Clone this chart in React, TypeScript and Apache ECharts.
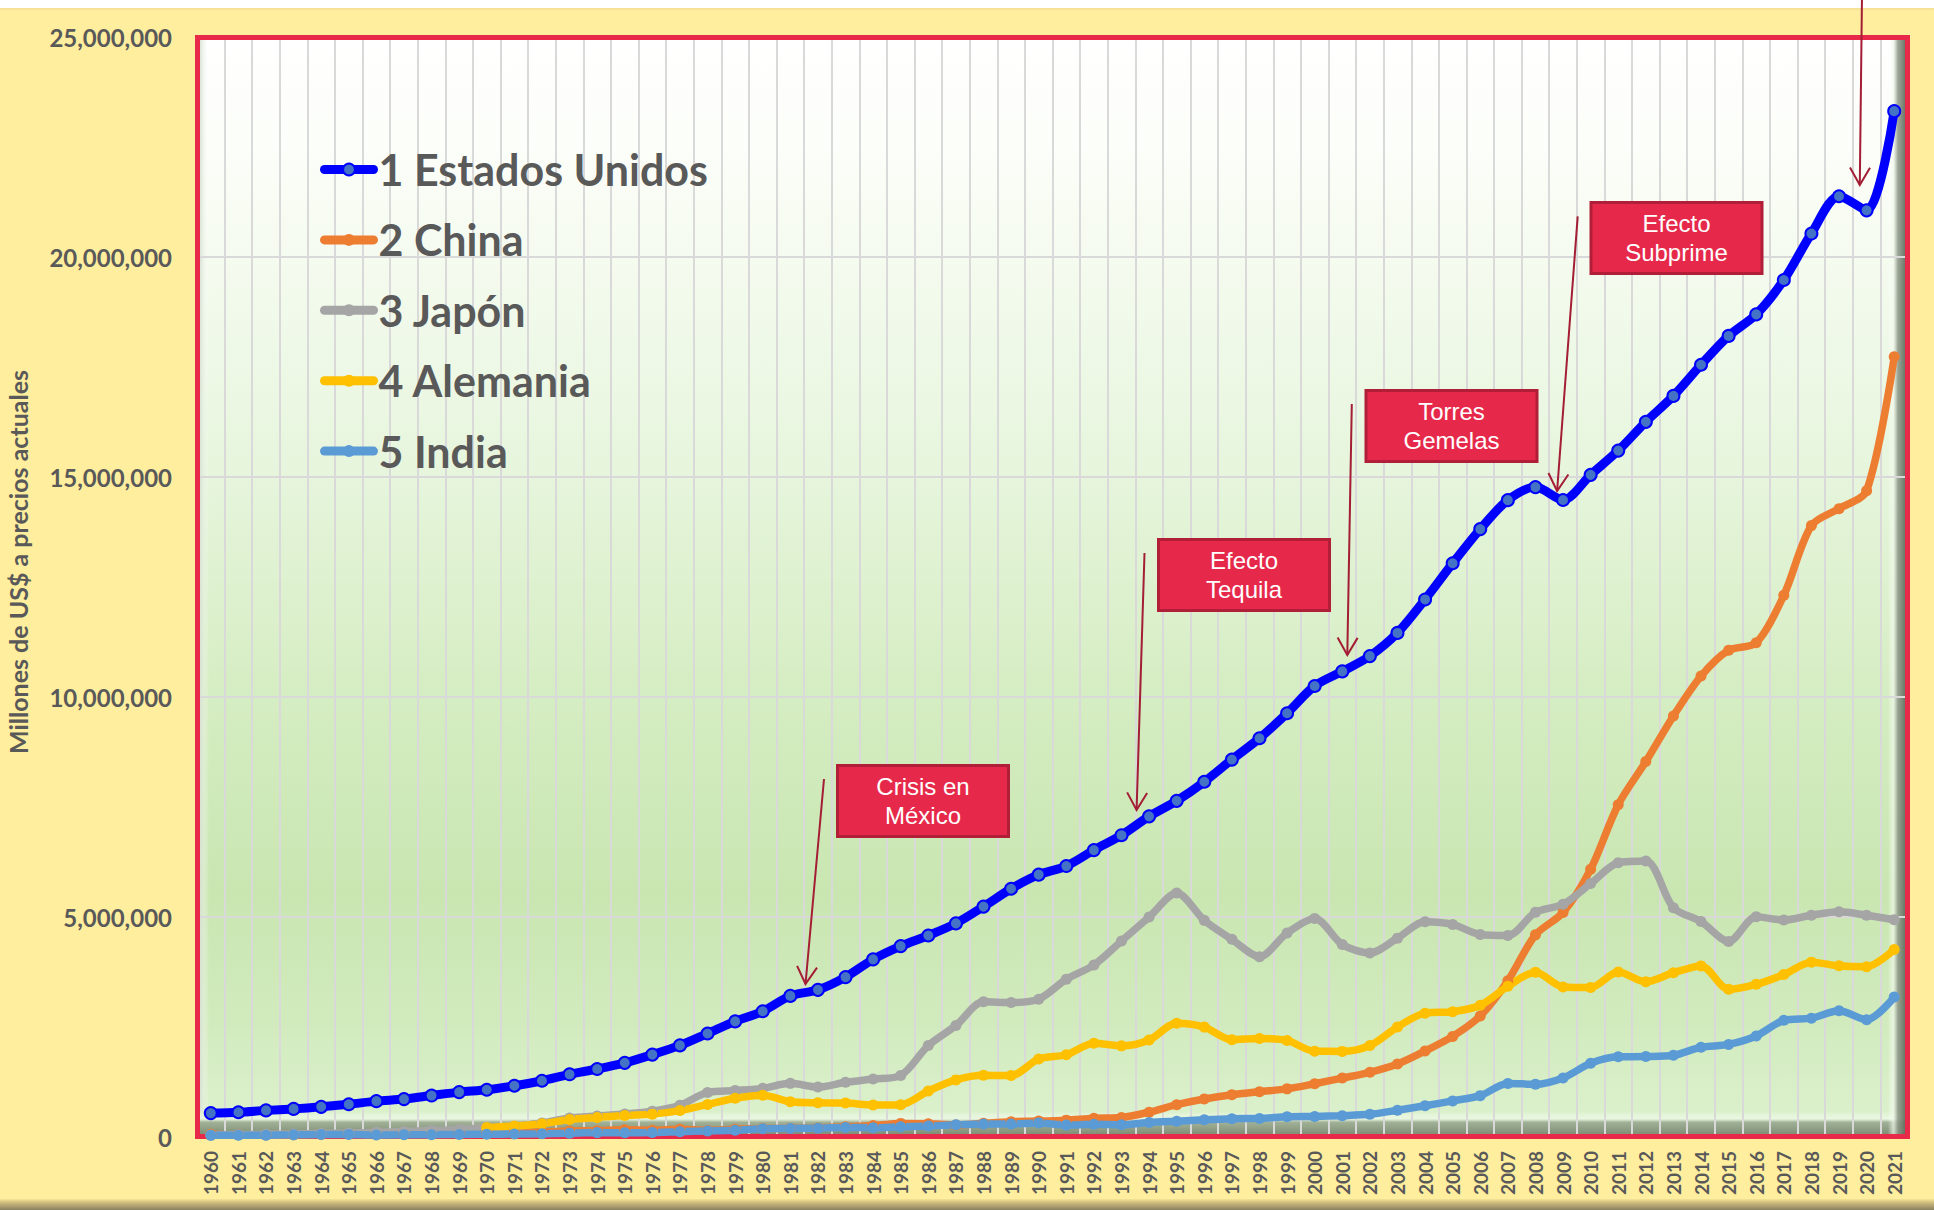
import React, { useEffect, useRef } from "react";
import * as echarts from "echarts";

// ---------- DATA (millones de US$ a precios actuales) ----------
const YEARS = [
  "1960", "1961", "1962", "1963", "1964", "1965", "1966", "1967", "1968", "1969",
  "1970", "1971", "1972", "1973", "1974", "1975", "1976", "1977", "1978", "1979",
  "1980", "1981", "1982", "1983", "1984", "1985", "1986", "1987", "1988", "1989",
  "1990", "1991", "1992", "1993", "1994", "1995", "1996", "1997", "1998", "1999",
  "2000", "2001", "2002", "2003", "2004", "2005", "2006", "2007", "2008", "2009",
  "2010", "2011", "2012", "2013", "2014", "2015", "2016", "2017", "2018", "2019",
  "2020", "2021",
];

const SERIES_NAMES = ["1 Estados Unidos", "2 China", "3 Japón", "4 Alemania", "5 India"];

const ESTADOS_UNIDOS = [
  543000, 563000, 605000, 639000, 686000, 744000, 815000, 862000, 942000, 1020000,
  1073000, 1165000, 1279000, 1425000, 1545000, 1685000, 1873000, 2082000, 2352000, 2627000,
  2857000, 3207000, 3344000, 3634000, 4038000, 4339000, 4580000, 4855000, 5236000, 5642000,
  5963000, 6158000, 6520000, 6859000, 7287000, 7640000, 8073000, 8578000, 9063000, 9631000,
  10251000, 10582000, 10929000, 11456000, 12217000, 13039000, 13816000, 14474000, 14770000, 14478000,
  15049000, 15600000, 16254000, 16843000, 17551000, 18206000, 18695000, 19477000, 20533000, 21381000,
  21060000, 23315000,
];

const CHINA = [
  59700, 50100, 47200, 50700, 59700, 70400, 76700, 72900, 70800, 79700,
  92600, 99800, 113700, 138500, 144200, 163400, 153900, 174900, 149500, 178300,
  191100, 195900, 205100, 230700, 259900, 309500, 300800, 272900, 312400, 347800,
  360900, 383400, 426900, 444700, 564300, 734500, 863700, 961600, 1029000, 1094000,
  1211000, 1339000, 1471000, 1660000, 1955000, 2286000, 2752000, 3550000, 4594000, 5102000,
  6087000, 7552000, 8532000, 9570000, 10476000, 11062000, 11233000, 12310000, 13895000, 14280000,
  14688000, 17734000,
];

const JAPON = [
  44300, 53500, 60700, 69500, 81700, 91000, 105600, 123800, 146600, 172200,
  212600, 240200, 318000, 432100, 479600, 521500, 586200, 721400, 1013600, 1055000,
  1105400, 1219000, 1134500, 1243300, 1318400, 1398900, 2079000, 2532800, 3071700, 3054900,
  3132800, 3584400, 3908800, 4454100, 4998800, 5545600, 4923400, 4492400, 4098400, 4636000,
  4968400, 4374700, 4182800, 4519600, 4893100, 4831500, 4601700, 4579800, 5106700, 5289500,
  5759100, 6233100, 6272400, 5212300, 4897000, 4444900, 5003700, 4930800, 5040900, 5118000,
  5040100, 4937400,
];

const ALEMANIA = [
  null, null, null, null, null, null, null, null, null, null,
  215800, 250000, 299800, 398400, 445300, 490600, 519800, 600500, 740500, 881300,
  950300, 800500, 776600, 770700, 725100, 732500, 1046200, 1298000, 1401200, 1399000,
  1771700, 1868900, 2131600, 2071300, 2205100, 2585800, 2497200, 2212000, 2239000, 2194900,
  1948000, 1945800, 2078500, 2501600, 2814400, 2846900, 2994700, 3425600, 3745300, 3411300,
  3399700, 3749300, 3527300, 3733800, 3889100, 3357600, 3469900, 3690800, 3974400, 3889700,
  3870000, 4262000,
];

const INDIA = [
  37000, 39200, 42200, 48400, 56500, 59600, 45900, 50100, 53100, 58400,
  62400, 67400, 71500, 85500, 99500, 98500, 102700, 121500, 137300, 153000,
  186300, 193500, 200700, 218300, 212200, 232500, 249000, 279000, 296600, 296000,
  321000, 270100, 288200, 279300, 327300, 360300, 392900, 415900, 421400, 458800,
  468400, 485400, 514900, 607700, 709100, 820400, 940300, 1216700, 1198900, 1341900,
  1675600, 1823100, 1827600, 1856700, 2039100, 2103600, 2294800, 2651500, 2701100, 2870500,
  2665000, 3180000,
];

const Y_MIN = 0;
const Y_MAX = 25000000;
const Y_INTERVAL = 5000000;
const Y_TITLE = "Millones de US$ a precios actuales";

const ANNOTATIONS = [
  { text: "Crisis en\nMéxico", box: [837.5, 765.5], from: [824, 779], to: [805.5, 984] },
  { text: "Efecto\nTequila", box: [1158.5, 539.5], from: [1144.5, 553], to: [1136.6, 810] },
  { text: "Torres\nGemelas", box: [1366, 390.5], from: [1351.8, 404], to: [1347.3, 655] },
  { text: "Efecto\nSubprime", box: [1591, 202.5], from: [1577.7, 216.4], to: [1557.1, 491] },
  { text: "", box: null, from: [1862, -5], to: [1859.8, 185] },
];

// ---------- STYLE ----------
const W = 1934;
const H = 1210;
const GRID = { left: 197, right: 26, top: 37, bottom: 73 };
const LINE_COLORS = ["#0000FF", "#ED7D31", "#A5A5A5", "#FFC000", "#5B9BD5"];
const LABEL_GRAY = "#595959";
const ARROW_COLOR = "#A31D35";
const BOX_FILL = "#E6294A";
const BOX_STROKE = "#B01E38";

function arrowHead(from: number[], to: number[], len = 20, ang = Math.PI / 6) {
  const a = Math.atan2(to[1] - from[1], to[0] - from[0]);
  return [
    [to[0] - len * Math.cos(a - ang), to[1] - len * Math.sin(a - ang)],
    [to[0], to[1]],
    [to[0] - len * Math.cos(a + ang), to[1] - len * Math.sin(a + ang)],
  ];
}

export default function App() {
  const ref = useRef<HTMLDivElement>(null);

  useEffect(() => {
    document.body.style.margin = "0";
    if (!ref.current) return;
    const chart = echarts.init(ref.current, null, { renderer: "svg" });

    const pl = GRID.left;
    const pt = GRID.top;
    const pr = W - GRID.right;
    const pb = H - GRID.bottom;

    const graphics: any[] = [];
    // yellow chart frame
    graphics.push({
      type: "rect", z: -10, silent: true,
      shape: { x: 0, y: 8, width: W, height: H - 8 },
      style: { fill: "#FFEE9D" },
    });
    graphics.push({
      type: "rect", z: -10, silent: true,
      shape: { x: 0, y: 8, width: W, height: 3 },
      style: { fill: new echarts.graphic.LinearGradient(0, 0, 0, 1, [
        { offset: 0, color: "#F3DE93" }, { offset: 1, color: "#FFEE9D" },
      ]) },
    });
    graphics.push({
      type: "rect", z: -10, silent: true,
      shape: { x: 0, y: 1199, width: W, height: 11 },
      style: { fill: new echarts.graphic.LinearGradient(0, 0, 0, 1, [
        { offset: 0, color: "#F5E497" }, { offset: 0.35, color: "#CDBB7C" }, { offset: 1, color: "#8A8060" },
      ]) },
    });
    // plot background
    graphics.push({
      type: "rect", z: -8, silent: true,
      shape: { x: pl, y: pt, width: pr - pl, height: pb - pt },
      style: { fill: new echarts.graphic.LinearGradient(0, 0, 0, 1, [
        { offset: 0, color: "#FFFFFF" },
        { offset: 0.1, color: "#FCFEF9" },
        { offset: 0.4, color: "#E6F5DC" },
        { offset: 0.6, color: "#D5EDC2" },
        { offset: 0.78, color: "#C9E6B1" },
        { offset: 0.9, color: "#D2EBBE" },
        { offset: 1, color: "#DDF2CF" },
      ]) },
    });
    // bevels
    graphics.push({
      type: "rect", z: -7, silent: true,
      shape: { x: pl + 3, y: pb - 25, width: pr - pl - 6, height: 23 },
      style: { fill: new echarts.graphic.LinearGradient(0, 0, 0, 1, [
        { offset: 0, color: "rgba(255,255,255,0)" },
        { offset: 0.3, color: "rgba(235,248,228,0.8)" },
        { offset: 0.45, color: "rgba(150,165,140,0.85)" },
        { offset: 1, color: "rgba(120,135,110,0.95)" },
      ]) },
    });
    graphics.push({
      type: "rect", z: -7, silent: true,
      shape: { x: pr - 20, y: pt + 3, width: 18, height: pb - pt - 5 },
      style: { fill: new echarts.graphic.LinearGradient(0, 0, 1, 0, [
        { offset: 0, color: "rgba(255,255,255,0)" },
        { offset: 0.3, color: "rgba(240,248,235,0.7)" },
        { offset: 0.55, color: "rgba(140,150,135,0.85)" },
        { offset: 1, color: "rgba(95,105,90,0.95)" },
      ]) },
    });
    graphics.push({
      type: "rect", z: -7, silent: true,
      shape: { x: pl + 3, y: pt + 3, width: 9, height: pb - pt - 28 },
      style: { fill: new echarts.graphic.LinearGradient(0, 0, 1, 0, [
        { offset: 0, color: "rgba(215,225,210,0.9)" },
        { offset: 1, color: "rgba(255,255,255,0)" },
      ]) },
    });
    // red border of the plot area
    graphics.push({
      type: "rect", z: 1, silent: true,
      shape: { x: pl + 0.5, y: pt + 0.5, width: pr - pl - 1, height: pb - pt - 1 },
      style: { fill: "none", stroke: "#E8294A", lineWidth: 5 },
    });
    // y axis title
    graphics.push({
      type: "text", z: 5, silent: true,
      x: 18, y: 562, rotation: Math.PI / 2,
      style: {
        text: Y_TITLE, fill: LABEL_GRAY, fontFamily: "Lato", fontWeight: "bold", fontSize: 25,
        align: "center", verticalAlign: "middle",
      },
    });
    // annotations
    ANNOTATIONS.forEach((a) => {
      graphics.push({
        type: "line", z: 20, silent: true,
        shape: { x1: a.from[0], y1: a.from[1], x2: a.to[0], y2: a.to[1] },
        style: { stroke: ARROW_COLOR, lineWidth: 2 },
      });
      graphics.push({
        type: "polyline", z: 20, silent: true,
        shape: { points: arrowHead(a.from, a.to) },
        style: { stroke: ARROW_COLOR, lineWidth: 2, fill: "none" },
      });
      if (a.box) {
        graphics.push({
          type: "rect", z: 20, silent: true,
          shape: { x: a.box[0], y: a.box[1], width: 171, height: 71 },
          style: { fill: BOX_FILL, stroke: BOX_STROKE, lineWidth: 3 },
        });
        graphics.push({
          type: "text", z: 21, silent: true,
          x: a.box[0] + 85.5, y: a.box[1] + 35.5,
          style: {
            text: a.text, fill: "#FFFFFF", fontFamily: "Liberation Sans", fontSize: 24,
            lineHeight: 29, align: "center", verticalAlign: "middle",
          },
        });
      }
    });

    const dataSets = [ESTADOS_UNIDOS, CHINA, JAPON, ALEMANIA, INDIA];
    const series = dataSets.map((d, i) => ({
      name: SERIES_NAMES[i],
      type: "line",
      data: d,
      smooth: 0.3,
      symbol: "circle",
      symbolSize: i === 0 ? 12 : 11,
      showAllSymbol: true,
      connectNulls: false,
      lineStyle: { color: LINE_COLORS[i], width: i === 0 ? 9 : 7.5 },
      itemStyle: i === 0
        ? { color: "#4472C4", borderColor: "#0000FF", borderWidth: 2 }
        : { color: LINE_COLORS[i], borderWidth: 0 },
      emphasis: { disabled: true },
      z: 2,
    }));

    chart.setOption({
      animation: false,
      backgroundColor: "#FFFFFF",
      grid: { left: GRID.left, right: GRID.right, top: GRID.top, bottom: GRID.bottom, containLabel: false },
      legend: {
        orient: "vertical",
        left: 320,
        top: 148,
        padding: 0,
        itemGap: 27.4,
        itemWidth: 49,
        itemHeight: 15,
        selectedMode: false,
        lineStyle: { width: 9, cap: "round" },
        textStyle: { fontFamily: "Lato", fontWeight: "bold", fontSize: 43, color: LABEL_GRAY, lineHeight: 43 },
        data: SERIES_NAMES,
      },
      xAxis: {
        type: "category",
        data: YEARS,
        boundaryGap: true,
        axisLine: { show: false },
        axisTick: { show: false },
        axisLabel: {
          interval: 0, rotate: 90, margin: 14, color: LABEL_GRAY,
          fontFamily: "Lato", fontWeight: "bold", fontSize: 19,
        },
        splitLine: { show: true, interval: 0, lineStyle: { color: "#D9D9D9", width: 2 } },
      },
      yAxis: {
        type: "value",
        min: Y_MIN,
        max: Y_MAX,
        interval: Y_INTERVAL,
        axisLine: { show: false },
        axisTick: { show: false },
        axisLabel: {
          margin: 25, color: LABEL_GRAY, fontFamily: "Lato", fontWeight: "bold", fontSize: 24,
          formatter: (v: number) => v.toLocaleString("en-US"),
        },
        splitLine: { show: true, lineStyle: { color: "#D9D9D9", width: 2 } },
      },
      graphic: { elements: graphics },
      series,
    });

    return () => chart.dispose();
  }, []);

  return <div ref={ref} style={{ width: W, height: H }} />;
}
